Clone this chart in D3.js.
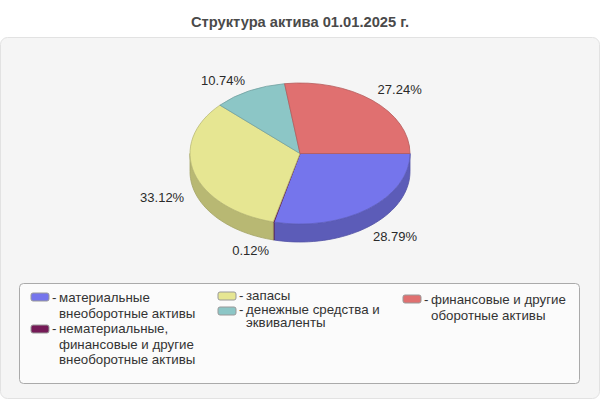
<!DOCTYPE html>
<html><head><meta charset="utf-8">
<script src="https://cdn.jsdelivr.net/npm/d3@7/dist/d3.min.js"></script>
<style>html,body{margin:0;padding:0;background:#fff}svg{display:block}text{font-family:"Liberation Sans",Arial,sans-serif}</style>
</head><body><svg id="c" width="600" height="400"></svg>
<script>
const titleText = "Структура актива 01.01.2025 г.";
const categories = ["материальные внеоборотные активы","нематериальные, финансовые и другие внеоборотные активы","запасы","денежные средства и эквиваленты","финансовые и другие оборотные активы"];
const values = [28.79, 0.12, 33.12, 10.74, 27.24];
const topColors = ["#7575ec","#751a57","#e6e692","#8cc6c6","#e07070"];
const sideColors = ["#5c5cb8","#5c1444","#b8b873","#6e9c9c","#b05858"];
const legendLines = [["материальные","внеоборотные активы"],["нематериальные,","финансовые и другие","внеоборотные активы"],["запасы"],["денежные средства и","эквиваленты"],["финансовые и другие","оборотные активы"]];

const svg = d3.select("#c");
const cx=300, cy=153.5, rx=110, ry=70.5, depth=18;
svg.append("rect").attr("x",0.5).attr("y",37.5).attr("width",599).attr("height",361).attr("rx",7).attr("fill","#f5f5f5").attr("stroke","#e2e2e2");
svg.append("text").attr("x",300).attr("y",26.5).attr("text-anchor","middle").attr("font-size",14.7).attr("font-weight","bold").attr("fill","#4a4a4a").text(titleText);

const pie = d3.pie().sort(null).value(d=>d).startAngle(Math.PI/2).endAngle(Math.PI*2.5);
const arcs = pie(values);
const X = a => cx + rx*Math.sin(a), Y = a => cy - ry*Math.cos(a);
const g = svg.append("g");
arcs.forEach((d,i)=>{
  const a0=Math.max(d.startAngle,Math.PI/2), a1=Math.min(d.endAngle,Math.PI*1.5);
  if(a1<=a0) return;
  const pts=d3.range(0,41).map(k=>a0+(a1-a0)*k/40);
  const p=d3.path();
  pts.forEach((a,k)=>k?p.lineTo(X(a),Y(a)):p.moveTo(X(a),Y(a)));
  pts.slice().reverse().forEach(a=>p.lineTo(X(a),Y(a)+depth));
  p.closePath();
  g.append("path").attr("d",p.toString()).attr("fill",sideColors[i]).attr("stroke",d3.color(sideColors[i]).darker(0.3)).attr("stroke-width",0.8);
});
const arc = d3.arc().innerRadius(0).outerRadius(rx);
const topG = svg.append("g").attr("transform",`translate(${cx},${cy}) scale(1,${ry/rx})`);
topG.selectAll("path").data(arcs).join("path").attr("d",arc).attr("fill",(d,i)=>topColors[i])
  .attr("stroke",(d,i)=>d3.color(topColors[i]).darker(0.6)).attr("stroke-width",0.8).attr("vector-effect","non-scaling-stroke");

const lrx=152, lry=86;
const nudgeX=[1,-13,8,-7,0], nudgeY=[-4,-5,1,2,0];
arcs.forEach((d,i)=>{
  const m=(d.startAngle+d.endAngle)/2, s=Math.sin(m), c=-Math.cos(m);
  svg.append("text").attr("x",cx+lrx*s+nudgeX[i]).attr("y",cy+lry*c+(c>0?depth:0)+5.5+nudgeY[i]).attr("text-anchor","middle")
    .attr("font-size",13).attr("fill","#2a2a2a").text(d3.format(".2f")(d.data)+"%");
});

svg.append("rect").attr("x",19.5).attr("y",283.5).attr("width",560).attr("height",100).attr("rx",4).attr("fill","#fbfbfb").attr("stroke","#aaa");
const pos=[[30,302,15.7],[30,333,15.7],[217,300,15.7],[217,314,13],[402,304,15.7]];
const swatchDy=[0,1,1,2,0];
legendLines.forEach((lines,i)=>{
  const [x,y,lh]=pos[i];
  svg.append("rect").attr("x",x+1).attr("y",y-9+swatchDy[i]).attr("width",18).attr("height",8).attr("rx",2).attr("fill",topColors[i]).attr("stroke","#999");
  svg.append("text").attr("x",x+22).attr("y",y).attr("font-size",13.3).attr("fill","#333").text("-");
  lines.forEach((t,k)=>svg.append("text").attr("x",x+29).attr("y",y+k*lh).attr("font-size",13.3).attr("fill","#333").text(t));
});
</script></body></html>
